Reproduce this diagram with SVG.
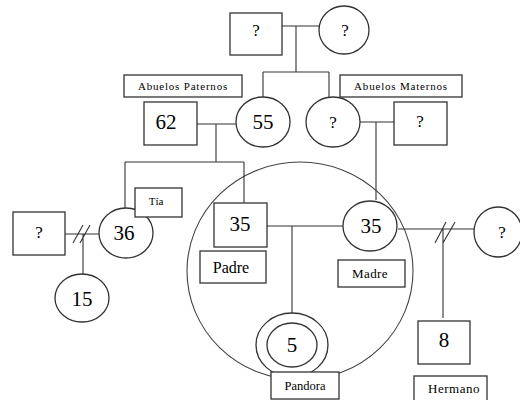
<svg xmlns="http://www.w3.org/2000/svg" width="520" height="400" viewBox="0 0 520 400">
<style>
.s{fill:#fff;stroke:#333;stroke-width:1.3}
.b{fill:none;stroke:#444;stroke-width:1.1}
.c{fill:none;stroke:#333;stroke-width:1.1}
</style>
<rect width="520" height="400" fill="#fff"/>
<g id="family-circle"><ellipse cx="300" cy="271" rx="113" ry="109" class="b"/></g>
<g id="connectors" class="c">
<path d="M282 26H319M296 26V72M263 72H329M263 72V97M329 72V97"/>
<path d="M197 124H236M216 124V162M125 162H244M125 162V208M244 162V203"/>
<path d="M360 122H394M376 122V200"/>
<path d="M65 234H99M83 234V274M73 243L83 225M80 243L90 225"/>
<path d="M267 226H343M292 226V313"/>
<path d="M398 229H474M443 229V318M435 243L446 222M443 243L455 222"/>
</g>
<g font-family="Liberation Serif, Times New Roman, DejaVu Serif, serif" text-anchor="middle" fill="#000">
<g id="abuelo-paterno"><rect x="230" y="13" width="52" height="42" class="s"/><text x="256" y="36" font-size="17">?</text></g>
<g id="abuela-paterna"><ellipse cx="344" cy="30" rx="25" ry="24" class="s"/><text x="345" y="36" font-size="17">?</text></g>
<g id="label-abuelos-paternos"><rect x="124" y="75" width="118" height="22" class="s"/><text x="183" y="90" font-size="11" letter-spacing="0.8">Abuelos Paternos</text></g>
<g id="label-abuelos-maternos"><rect x="340" y="75" width="122" height="22" class="s"/><text x="401" y="90" font-size="11" letter-spacing="0.8">Abuelos Maternos</text></g>
<g id="n62"><rect x="144" y="102" width="53" height="43" class="s"/><text x="166" y="129" font-size="21">62</text></g>
<g id="n55"><ellipse cx="263" cy="122" rx="27" ry="25" class="s"/><text x="263" y="129" font-size="21">55</text></g>
<g id="abuela-materna"><ellipse cx="333" cy="122" rx="27" ry="25" class="s"/><text x="333" y="128" font-size="17">?</text></g>
<g id="abuelo-materno"><rect x="394" y="102" width="53" height="43" class="s"/><text x="420" y="127" font-size="17">?</text></g>
<g id="pareja-tia"><rect x="13" y="212" width="52" height="43" class="s"/><text x="39" y="238" font-size="17">?</text></g>
<g id="tia"><ellipse cx="126" cy="233" rx="27" ry="25" class="s"/><text x="124" y="240" font-size="21">36</text></g>
<g id="label-tia"><rect x="135" y="188" width="47" height="29" class="s"/><text x="156" y="205" font-size="11">Tía</text></g>
<g id="primo"><ellipse cx="82" cy="298" rx="27" ry="24" class="s"/><text x="82" y="306" font-size="21">15</text></g>
<g id="padre"><rect x="214" y="203" width="53" height="44" class="s"/><text x="240" y="231" font-size="21">35</text></g>
<g id="label-padre"><rect x="200" y="251" width="66" height="32" class="s"/><text x="231" y="273" font-size="16">Padre</text></g>
<g id="madre"><ellipse cx="370" cy="226" rx="27" ry="25" class="s"/><text x="371" y="233" font-size="21">35</text></g>
<g id="label-madre"><rect x="338" y="260" width="67" height="27" class="s"/><text x="370" y="278" font-size="13" letter-spacing="0.4">Madre</text></g>
<g id="pareja-madre"><ellipse cx="498" cy="232" rx="24" ry="25" class="s"/><text x="502" y="238" font-size="17">?</text></g>
<g id="pandora"><ellipse cx="292" cy="345" rx="36" ry="32" class="s"/><ellipse cx="292" cy="345" rx="25" ry="22" class="s"/><text x="292" y="352" font-size="21">5</text></g>
<g id="label-pandora"><rect x="271" y="372" width="68" height="27" class="s"/><text x="305" y="390" font-size="12.5">Pandora</text></g>
<g id="hermano"><rect x="418" y="321" width="52" height="43" class="s"/><text x="444" y="347" font-size="21">8</text></g>
<g id="label-hermano"><rect x="414" y="376" width="73" height="28" class="s"/><text x="454" y="393" font-size="13" letter-spacing="0.5">Hermano</text></g>
</g>
</svg>
